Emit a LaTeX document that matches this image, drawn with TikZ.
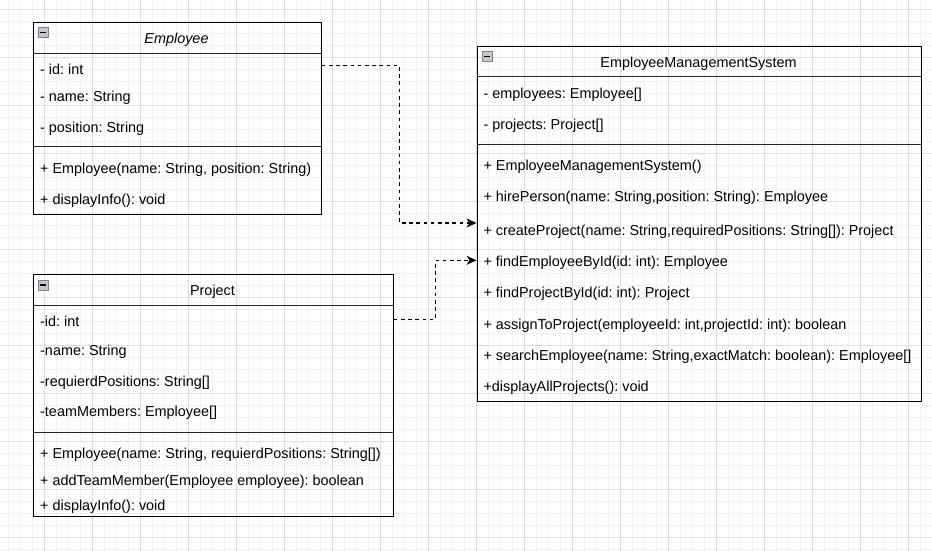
\documentclass[tikz,border=0pt]{standalone}
\usepackage{fontspec}
\setmainfont{Liberation Sans}
\usetikzlibrary{arrows.meta}
\definecolor{gridminor}{HTML}{F2F2F2}
\definecolor{gridmajor}{HTML}{DEDEDE}
\definecolor{iconfill}{HTML}{C4C6C9}
\definecolor{iconline}{HTML}{7F8288}
\frenchspacing
\begin{document}
\begin{tikzpicture}[x=1pt,y=-1pt,
  umlfont/.style={font=\fontsize{14.4}{17}\selectfont},
  classbox/.style={draw=black, line width=1.2pt, anchor=north west, inner sep=0pt},
  sepline/.style={draw=black!85, line width=1.2pt},
  row/.style={umlfont, anchor=west, inner sep=0pt, text height=10.4pt, text depth=0pt},
  title/.style={umlfont, anchor=center, inner sep=0pt, text height=10.4pt, text depth=0pt},
  dep/.style={draw=black, line width=1.2pt, dash pattern=on 3.6pt off 3.6pt,
    -{Stealth[length=10pt,width=9pt,inset=3pt]}},
  collapse/.style={draw=iconline, fill=iconfill, line width=0.8pt, minimum size=10pt,
    inner sep=0pt, anchor=north west}]

% canvas and grid
\useasboundingbox (0,0) rectangle (932,551);
\fill[white] (0,0) rectangle (932,551);
\foreach \x in {8.6,20.6,...,932} \draw[gridminor, line width=1pt] (\x,0) -- (\x,551);
\foreach \y in {9.6,21.6,...,551} \draw[gridminor, line width=1pt] (0,\y) -- (932,\y);
\foreach \x in {44.6,92.6,...,932} \draw[gridmajor, line width=1pt] (\x,0) -- (\x,551);
\foreach \y in {9.6,57.6,...,551} \draw[gridmajor, line width=1pt] (0,\y) -- (932,\y);

% ---------- Employee ----------
\node[classbox, minimum width=288pt, minimum height=192pt] (emp) at (32.5,22) {};
\draw[sepline] (32.5,53.2) -- (320.5,53.2);
\draw[sepline] (32.5,146.7) -- (320.5,146.7);
\node[collapse] (emp-ic) at (37.5,27.5) {};
\draw[line width=1.2pt] (39.5,32.5) -- (45.5,32.5);
\node[title] (emp-t) at (176.5,38.3) {\itshape Employee};
\node[row] (emp-a1) at (40,69.3) {- id: int};
\node[row] (emp-a2) at (40,96) {- name: String};
\node[row] (emp-a3) at (40,127.3) {- position: String};
\node[row] (emp-m1) at (40,168.3) {+ Employee(name: String, position: String)};
\node[row] (emp-m2) at (40,199.3) {+ displayInfo(): void};

% ---------- Project ----------
\node[classbox, minimum width=360pt, minimum height=242pt] (proj) at (32.5,274) {};
\draw[sepline] (32.5,305.3) -- (392.5,305.3);
\draw[sepline] (32.5,432.3) -- (392.5,432.3);
\node[collapse] (proj-ic) at (37.5,280) {};
\draw[line width=1.2pt] (39.5,285) -- (45.5,285);
\node[title] (proj-t) at (212.5,290) {Project};
\node[row] (proj-a1) at (40,321) {-id: int};
\node[row] (proj-a2) at (40,350.7) {-name: String};
\node[row] (proj-a3) at (40,381.7) {-requierdPositions: String[]};
\node[row] (proj-a4) at (40,411.7) {-teamMembers: Employee[]};
\node[row] (proj-m1) at (40,453.3) {+ Employee(name: String, requierdPositions: String[])};
\node[row] (proj-m2) at (40,480) {+ addTeamMember(Employee employee): boolean};
\node[row] (proj-m3) at (40,505.7) {+ displayInfo(): void};

% ---------- EmployeeManagementSystem ----------
\node[classbox, minimum width=444pt, minimum height=355.2pt] (ems) at (476.5,45.7) {};
\draw[sepline] (476.5,76.8) -- (920.5,76.8);
\draw[sepline] (476.5,144.3) -- (920.5,144.3);
\node[collapse] (ems-ic) at (481.5,51.2) {};
\draw[line width=1.2pt] (483.5,56.2) -- (489.5,56.2);
\node[title] (ems-t) at (698.5,62.3) {EmployeeManagementSystem};
\node[row] (ems-a1) at (483.3,93.3) {- employees: Employee[]};
\node[row] (ems-a2) at (483.3,124.3) {- projects: Project[]};
\node[row] (ems-m1) at (483.3,165.7) {+ EmployeeManagementSystem()};
\node[row] (ems-m2) at (483.3,196) {+ hirePerson(name: String,position: String): Employee};
\node[row] (ems-m3) at (483.3,230.3) {+ createProject(name: String,requiredPositions: String[]): Project};
\node[row] (ems-m4) at (483.3,261) {+ findEmployeeById(id: int): Employee};
\node[row] (ems-m5) at (483.3,292.3) {+ findProjectById(id: int): Project};
\node[row] (ems-m6) at (483.3,324.3) {+ assignToProject(employeeId: int,projectId: int): boolean};
\node[row] (ems-m7) at (483.3,355) {+ searchEmployee(name: String,exactMatch: boolean): Employee[]};
\node[row] (ems-m8) at (483.3,386.7) {+displayAllProjects(): void};

% ---------- dependencies ----------
\draw[dep] ([yshift=-43.7pt]emp.north east) -- ++(77.8,0) |- ([yshift=-177.3pt]ems.north west);
\draw[dep] ([yshift=-45.3pt]proj.north east) -- ++(41.8,0) |- ([yshift=-214.6pt]ems.north west);

\end{tikzpicture}
\end{document}
